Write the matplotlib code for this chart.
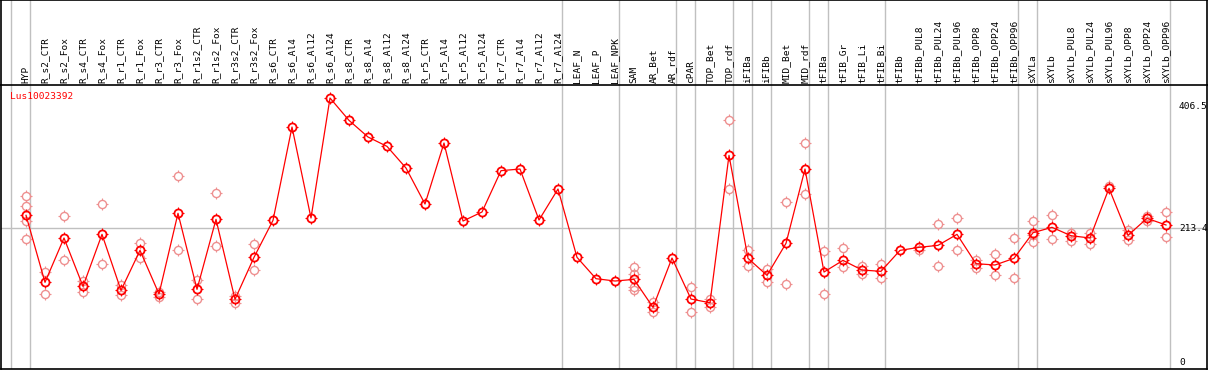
import matplotlib
matplotlib.use('Agg')
import matplotlib.pyplot as plt
import numpy as np
from matplotlib.path import Path

# sample names along the x axis
samples = ['HYP', 'R_s2_CTR', 'R_s2_Fox', 'R_s4_CTR', 'R_s4_Fox', 'R_r1_CTR', 'R_r1_Fox',
           'R_r3_CTR', 'R_r3_Fox', 'R_r1s2_CTR', 'R_r1s2_Fox', 'R_r3s2_CTR', 'R_r3s2_Fox',
           'R_s6_CTR', 'R_s6_Al4', 'R_s6_Al12', 'R_s6_Al24', 'R_s8_CTR', 'R_s8_Al4',
           'R_s8_Al12', 'R_s8_Al24', 'R_r5_CTR', 'R_r5_Al4', 'R_r5_Al12', 'R_r5_Al24',
           'R_r7_CTR', 'R_r7_Al4', 'R_r7_Al12', 'R_r7_Al24', 'LEAF_N', 'LEAF_P', 'LEAF_NPK',
           'SAM', 'AR_Bet', 'AR_rdf', 'cPAR', 'TOP_Bet', 'TOP_rdf', 'iFIBa', 'iFIBb',
           'MID_Bet', 'MID_rdf', 'tFIBa', 'tFIB_Gr', 'tFIB_Li', 'tFIB_Bi', 'tFIBb',
           'tFIBb_PUL8', 'tFIBb_PUL24', 'tFIBb_PUL96', 'tFIBb_OPP8', 'tFIBb_OPP24',
           'tFIBb_OPP96', 'sXYLa', 'sXYLb', 'sXYLb_PUL8', 'sXYLb_PUL24', 'sXYLb_PUL96',
           'sXYLb_OPP8', 'sXYLb_OPP24', 'sXYLb_OPP96']

# mean expression per sample
means = [233.6, 126.9, 197.5, 120.5, 203.3, 114.1, 177.8, 108.3, 236.8, 115.7, 227.2, 99.8,
         166.7, 225.6, 374.2, 229.3, 420.4, 384.8, 358.3, 343.4, 308.9, 251.6, 348.7, 224.5,
         238.9, 304.7, 307.3, 226.1, 275.5, 166.7, 132.7, 129.0, 131.6, 87.1, 165.6, 100.3,
         94.4, 329.1, 165.1, 138.0, 189.0, 307.3, 143.3, 161.9, 146.5, 144.4, 177.8, 182.6,
         185.8, 203.3, 156.6, 154.5, 165.1, 205.9, 214.5, 201.1, 197.5, 276.6, 201.7, 228.8,
         218.2]

# replicate values per sample (only those visible)
replicates = [[263.8, 247.9, 225.0, 195.4], [143.8, 107.8], [232.0, 161.9], [129.0, 112.0],
              [251.0, 155.5], [122.6, 107.2], [189.0, 166.0], [111.0, 104.0], [295.7, 177.8],
              [130.6, 100.8], [268.6, 184.7], [105.0, 94.4], [187.9, 146.0],
              [], [], [], [], [], [], [], [], [], [], [], [], [], [], [], [], [], [], [],
              [151.3, 140.6, 120.0, 114.6], [95.5, 80.1], [], [119.4, 79.1], [100.3, 87.1],
              [384.8, 275.5], [177.8, 152.3], [148.1, 127.9], [254.3, 123.7], [348.7, 267.0],
              [176.3, 107.8], [181.5, 151.8], [153.3, 140.6], [156.0, 133.3], [],
              [178.3], [219.3, 152.3], [228.8, 177.8], [161.9, 149.2], [172.0, 138.0],
              [197.0, 133.3], [224.5, 202.2, 190.6], [233.6, 195.4], [205.9, 192.7],
              [205.9, 187.9], [279.8], [210.2, 193.8], [232.5, 225.0], [238.4, 199.0]]

# group separators (after these sample indices)
separators = [-1, 0, 28, 31, 34, 35, 37, 38, 39, 41, 42, 45, 52, 53, 60]
ylabels = [406.5, 213.4, 0]
gene = 'Lus10023392'

# four small ticks around each circle
R = 1.4
verts, codes = [], []
for a in [0, np.pi / 2, np.pi, 3 * np.pi / 2]:
    verts += [(np.cos(a), np.sin(a)), (R * np.cos(a), R * np.sin(a))]
    codes += [Path.MOVETO, Path.LINETO]
tickpath = Path(verts, codes)

plt.rcParams['font.family'] = 'DejaVu Sans Mono'
fs = 6.8

W, H = 1209, 370
fig = plt.figure(figsize=(W / 100, H / 100), dpi=100)
xl = (-25 / 19, 60 + 41 / 19)
axl = fig.add_axes([1 / W, (H - 85) / H, 1206 / W, 85 / H])
ax = fig.add_axes([1 / W, 1 / H, 1206 / W, 284 / H])

grid = '#c0c0c0'
for a in (axl, ax):
    a.set_xlim(*xl)
    a.set_xticks([])
    a.set_yticks([])
    for s in a.spines.values():
        s.set_linewidth(1.2)
    for g in separators:
        a.axvline(g + 0.2, color=grid, lw=1, zorder=0)
axl.set_ylim(0, 1)
axl.spines['bottom'].set_visible(False)

for i, name in enumerate(samples):
    axl.text(i, 2 / 85, name, rotation=90, ha='center', va='bottom', fontsize=fs)

ax.set_ylim(-11.1, 441.1)
ax.axhline(213.4, color=grid, lw=1, zorder=0)


def marks(xs, ys, col, z, mew):
    ms = 8.2
    ax.plot(xs, ys, ls='none', marker='o', ms=ms / R, mfc='none', mec=col, mew=mew, zorder=z)
    ax.plot(xs, ys, ls='none', marker=tickpath, ms=ms, mfc='none', mec=col, mew=0.8, zorder=z)


x = np.arange(len(samples))
for i, reps in enumerate(replicates):
    if reps:
        marks([i] * len(reps), reps, '#ee9090', 2, 1.0)
ax.plot(x, means, color='red', lw=0.9, zorder=3)
marks(x, means, 'red', 4, 1.3)

for v in ylabels:
    ax.text(60.68, v, str(v) if v else '0', ha='left', va='center', fontsize=fs)
ax.text(-0.84, 422, gene, color='red', ha='left', va='center', fontsize=fs)

fig.savefig('out.png', dpi=100)
